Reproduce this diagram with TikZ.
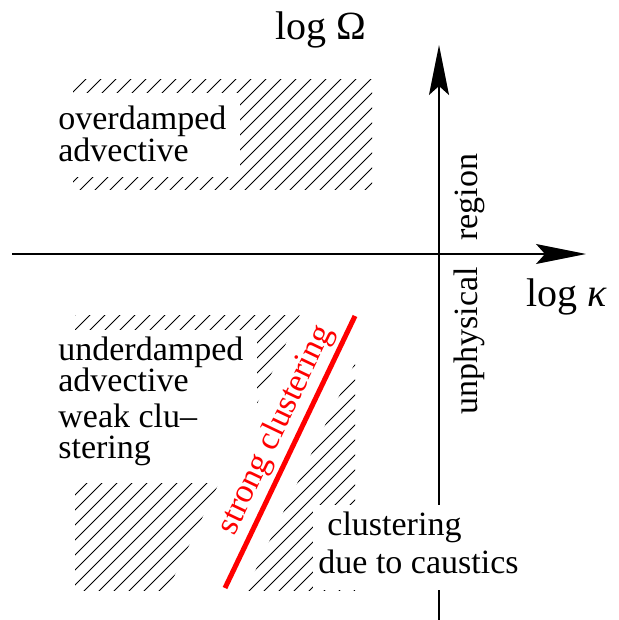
\documentclass[tikz,border=0pt]{standalone}
\usepackage{fontspec}
\setmainfont{Liberation Serif}
\usetikzlibrary{arrows.meta}

\begin{document}
\begin{tikzpicture}[x=0.5pt, y=-0.5pt,
    axis/.style={line width=0.8pt, -{Stealth[length=25pt, width=10pt, inset=4.5pt]}},
    hatch/.style={line width=0.45pt},
    mask/.style={fill=white, draw=none},
    txt/.style={font=\fontsize{17}{15}\selectfont, inner sep=0pt, align=left},
    axlabel/.style={font=\fontsize{20}{24}\selectfont, inner sep=0pt}]

  \useasboundingbox (0,0) rectangle (618,620);

  % hatched regions
  \begin{scope}
    \clip (73,80) rectangle (372,190);
    \foreach \c in {150,165,...,570} \draw[hatch] (\c,0) -- (0,\c);
  \end{scope}
  \begin{scope}
    \clip (75,315) rectangle (355,590);
    \foreach \c in {375,390,...,960} \draw[hatch] (\c,0) -- (0,\c);
  \end{scope}

  % axes
  \coordinate (xstart) at (12,254);
  \coordinate (xend) at (586,254);
  \coordinate (ystart) at (439,620);
  \coordinate (yend) at (439,45);
  \draw[axis] (xstart) -- (xend);
  \draw[axis] (ystart) -- (yend);

  % blank areas for the labels
  \fill[mask] (50,93) rectangle (240,177);
  \fill[mask] (50,330) rectangle (257,483);
  \fill[mask] (163,600) -- (307,300) -- (385,300) -- (241,600) -- cycle;
  \fill[mask] (313,505) rectangle (520,590);

  % strong clustering line
  \coordinate (sc1) at (225,588);
  \coordinate (sc2) at (355,316);
  \draw[red, line width=2.5pt] (sc1) -- (sc2)
    node[pos=0.545, sloped, above, txt, inner sep=2pt, text=red] (sclabel) {strong clustering};

  \node[axlabel, anchor=base west] (omega) at (275,40) {log Ω};
  \node[axlabel, anchor=base west] (kappa) at (526,306) {log \textit{κ}};

  % multi-line labels sit on the baseline of their last line
  \node[txt, anchor=base west] (over) at (58,162) {overdamped\\advective};
  \node[txt, font=\fontsize{17}{15.5}\selectfont, anchor=base west] (under) at (58,391) {underdamped\\advective};
  \node[txt, font=\fontsize{17}{15.5}\selectfont, anchor=base west] (weak) at (58,458) {weak clu--\\stering};
  \node[txt, font=\fontsize{17}{19}\selectfont, anchor=base west] (caustic) at (318,573) {\hspace*{4.5pt}clustering\\due to caustics};

  \node[txt, rotate=90, anchor=base west] (region) at (477,241) {region};
  \node[txt, rotate=90, anchor=base west] (unphys) at (477,415) {unphysical};
\end{tikzpicture}
\end{document}
